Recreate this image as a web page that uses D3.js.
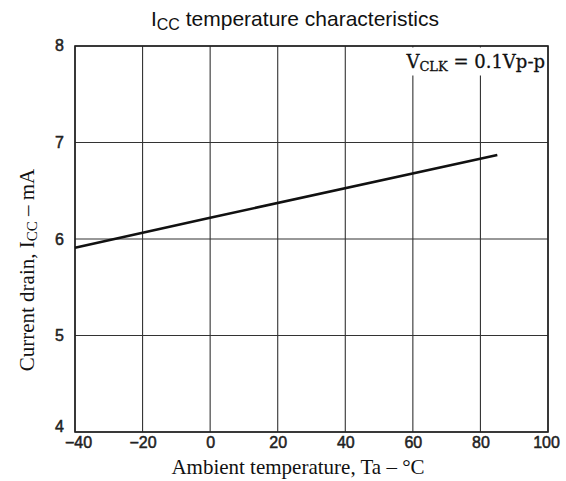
<!DOCTYPE html>
<html>
<head>
<meta charset="utf-8">
<script src="https://cdn.jsdelivr.net/npm/d3@7"></script>
<style>
  body { margin: 0; background: #fff; }
</style>
</head>
<body>
<svg id="chart" width="566" height="481"></svg>
<script>
const temps = [-40, 0, 85]
const currents = [5.91, 6.22, 6.87]
const xTicks = [-40, -20, 0, 20, 40, 60, 80, 100]
const yTicks = [4, 5, 6, 7, 8]

const svg = d3.select('#chart')
const pLeft = 75, pRight = 548, pTop = 46, pBottom = 432

const x = d3.scaleLinear().domain([-40, 100]).range([pLeft, pRight])
const y = d3.scaleLinear().domain([4, 8]).range([pBottom, pTop])

const sans = 'Liberation Sans, Arial, sans-serif'
const serif = 'Liberation Serif, Times New Roman, serif'

// grid
svg.append('g')
  .selectAll('line')
  .data(xTicks)
  .enter().append('line')
  .attr('x1', d => x(d)).attr('x2', d => x(d))
  .attr('y1', pTop).attr('y2', pBottom)
  .attr('stroke', '#333').attr('stroke-width', 1.1)
svg.append('g')
  .selectAll('line')
  .data(yTicks)
  .enter().append('line')
  .attr('x1', pLeft).attr('x2', pRight)
  .attr('y1', d => y(d)).attr('y2', d => y(d))
  .attr('stroke', '#333').attr('stroke-width', 1.1)

// frame
svg.append('rect')
  .attr('x', pLeft).attr('y', pTop)
  .attr('width', pRight - pLeft).attr('height', pBottom - pTop)
  .attr('fill', 'none').attr('stroke', '#222').attr('stroke-width', 1.6)

// label box
svg.append('rect')
  .attr('x', 398).attr('y', pTop + 1.5).attr('width', pRight - 399.5).attr('height', 28)
  .attr('fill', '#fff')
const lab = svg.append('text')
  .attr('x', 545).attr('y', 68)
  .attr('text-anchor', 'end')
  .style('font-family', "'DejaVu Serif', serif")
  .style('font-size', '18px')
  .attr('fill', '#111').attr('stroke', '#111').attr('stroke-width', 0.3)
lab.append('tspan').text('V')
lab.append('tspan').text('CLK').style('font-size', '13px').attr('dy', 3)
lab.append('tspan').text(' = 0.1Vp-p').attr('dy', -3)

// data line
svg.append('path')
  .datum(temps.map((t, i) => [t, currents[i]]))
  .attr('d', d3.line().x(d => x(d[0])).y(d => y(d[1])))
  .attr('fill', 'none').attr('stroke', '#111').attr('stroke-width', 2.6)

// axes (labels only)
svg.append('g')
  .attr('transform', `translate(0,${pBottom})`)
  .call(d3.axisBottom(x).tickValues(xTicks).tickSize(0).tickPadding(5).tickFormat(d3.format('d')))
  .call(g => g.select('.domain').remove())
  .selectAll('text')
  .style('font', '16px ' + sans).attr('fill', '#222')
  .attr('stroke', '#222').attr('stroke-width', 0.5)
  .attr('dx', d => d === -40 ? 3 : (d === 100 ? -2 : 0))

svg.append('g')
  .attr('transform', `translate(${pLeft},0)`)
  .call(d3.axisLeft(y).tickValues(yTicks).tickSize(0).tickPadding(11).tickFormat(d3.format('d')))
  .call(g => g.select('.domain').remove())
  .selectAll('text')
  .style('font', '16px ' + sans).attr('fill', '#222')
  .attr('stroke', '#222').attr('stroke-width', 0.5)
  .attr('dy', d => d === 4 ? '-0.05em' : (d === 8 ? '0.25em' : '0.32em'))

// title
const title = svg.append('text')
  .attr('x', 295).attr('y', 26)
  .attr('text-anchor', 'middle')
  .style('font', '21px ' + sans).attr('fill', '#111')
title.append('tspan').text('I')
title.append('tspan').text('CC').style('font-size', '16px').attr('dy', 4)
title.append('tspan').text(' temperature characteristics').attr('dy', -4)

// axis titles
svg.append('text')
  .attr('x', 298).attr('y', 474)
  .attr('text-anchor', 'middle')
  .style('font', '21px ' + serif).attr('fill', '#111')
  .text('Ambient temperature, Ta – °C')

const yt = svg.append('text')
  .attr('transform', 'translate(34,270) rotate(-90)')
  .attr('text-anchor', 'middle')
  .style('font', '21px ' + serif).attr('fill', '#111')
yt.append('tspan').text('Current drain, I')
yt.append('tspan').text('CC').style('font-size', '15px').attr('dy', 3)
yt.append('tspan').text(' – mA').attr('dy', -3)
</script>
</body>
</html>
